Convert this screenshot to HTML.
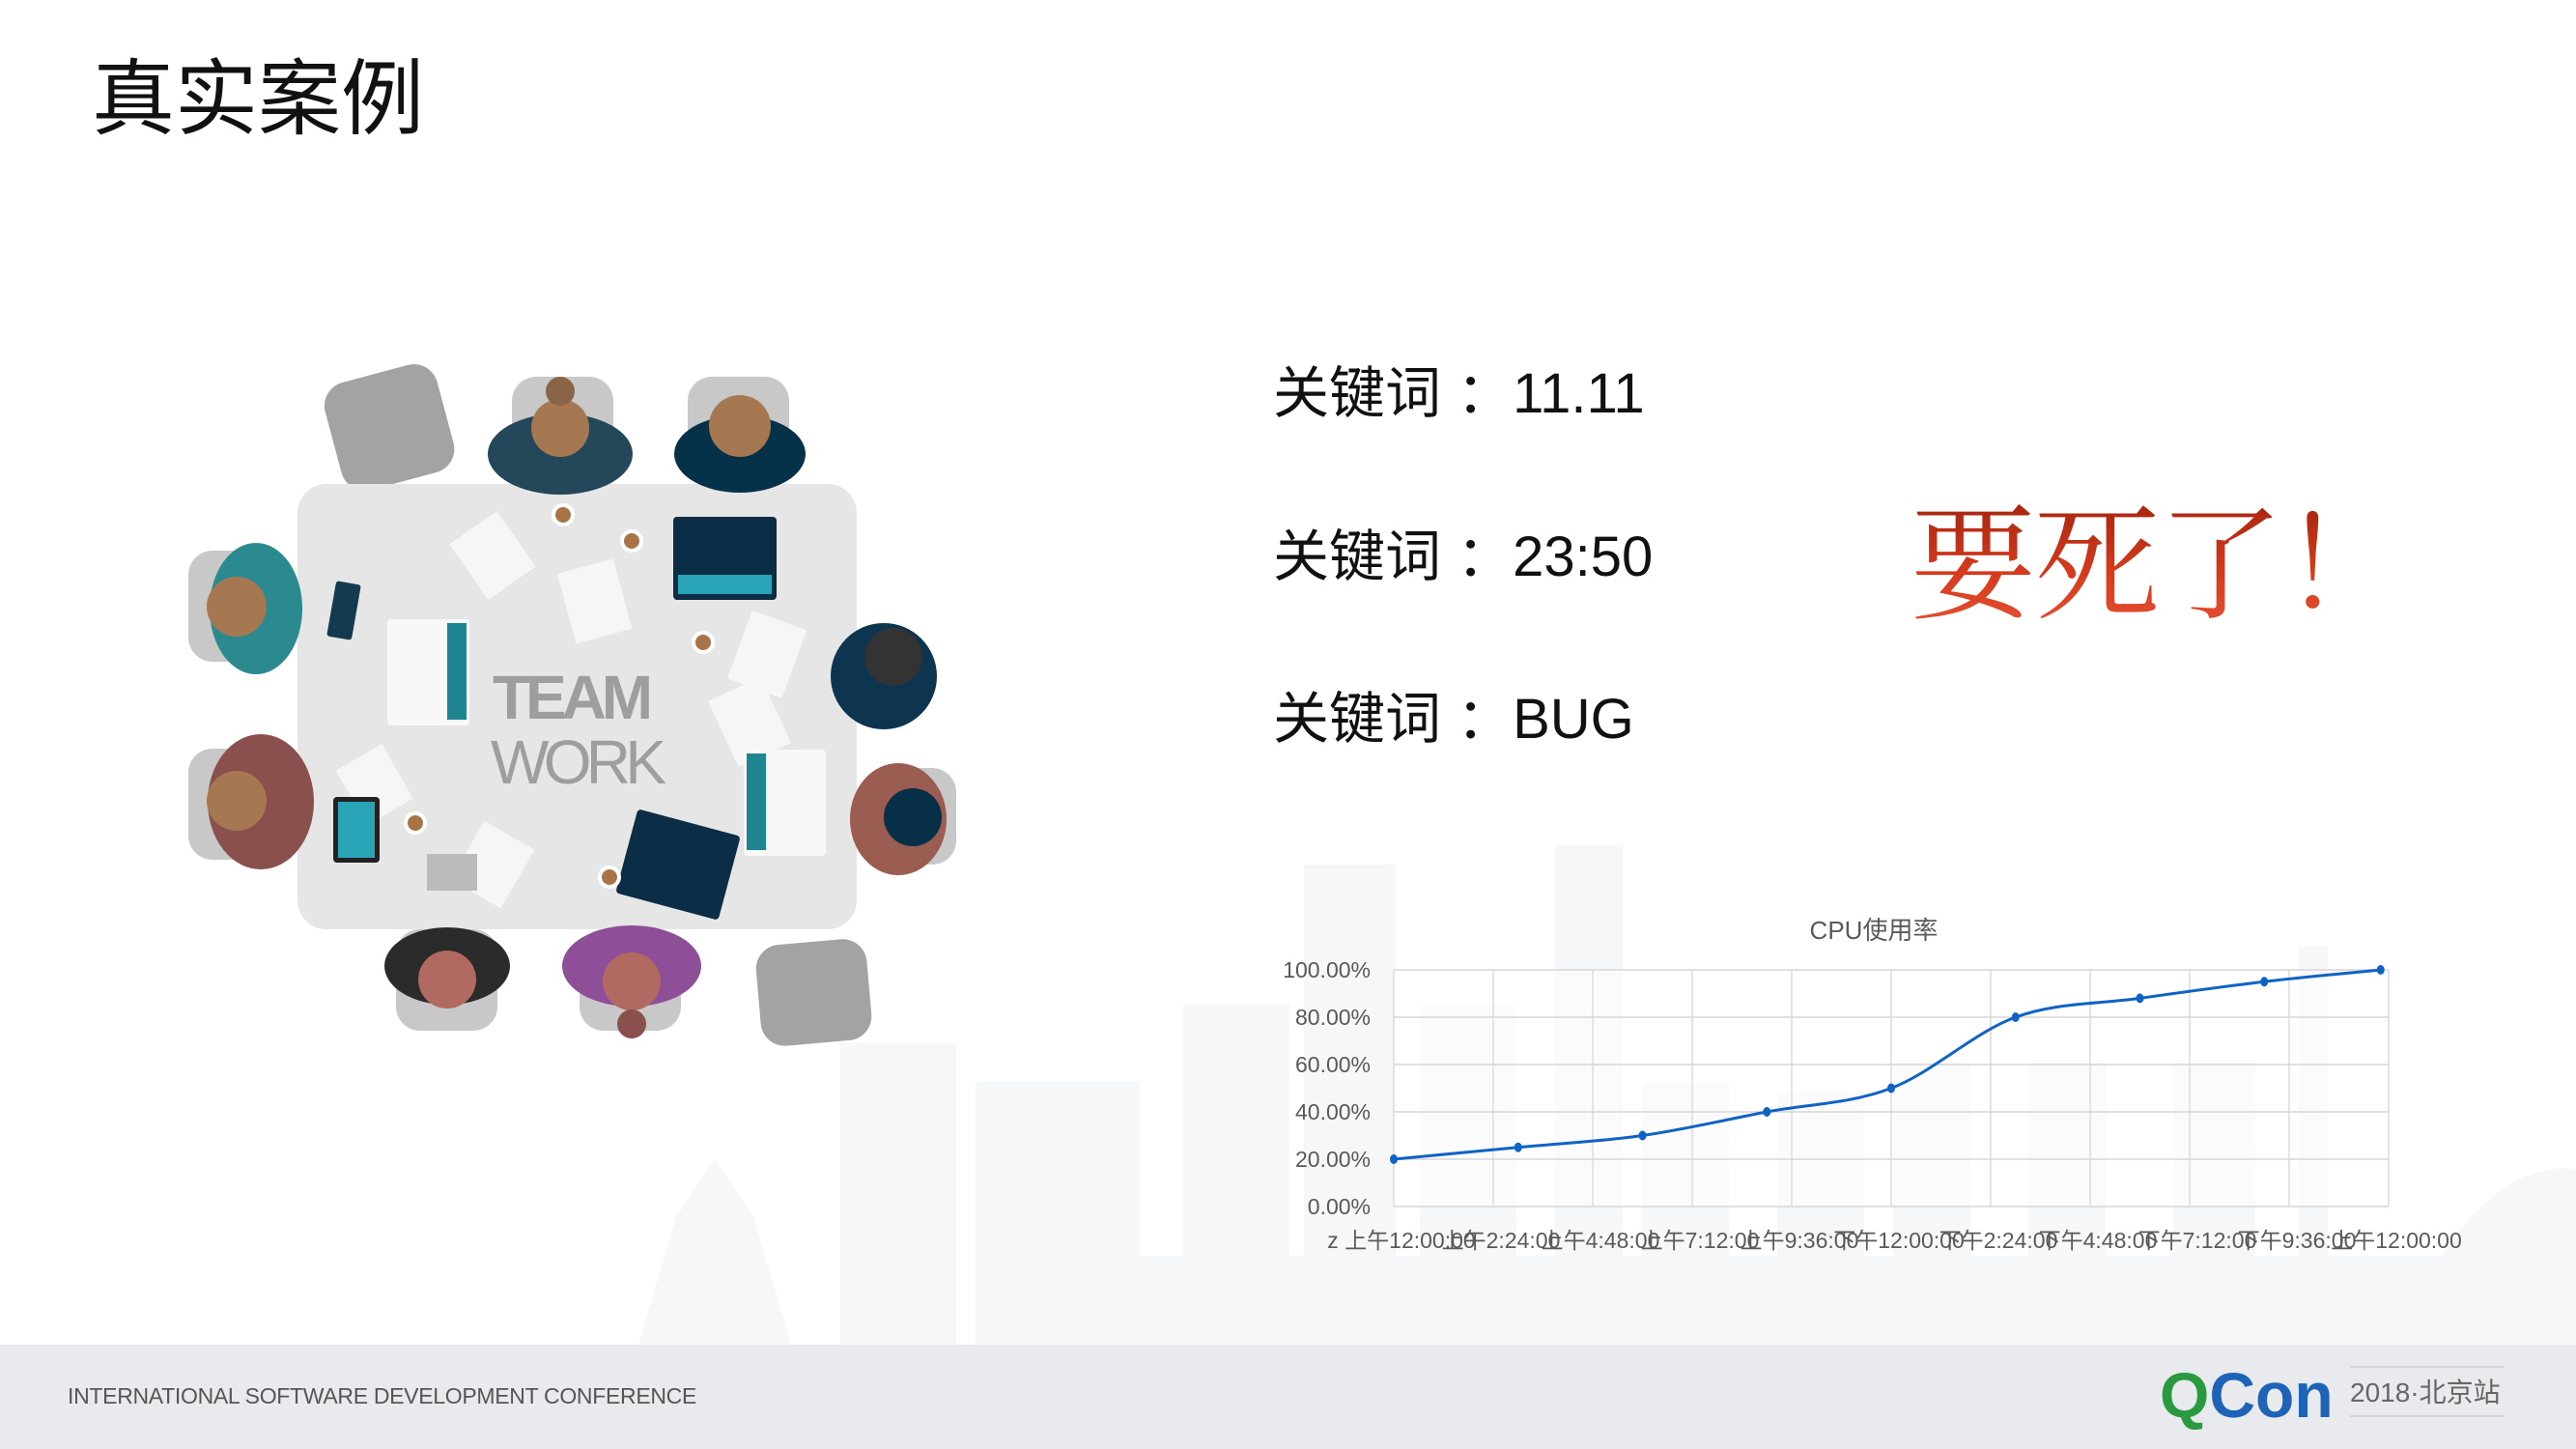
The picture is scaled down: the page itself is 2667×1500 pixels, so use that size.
<!DOCTYPE html>
<html><head><meta charset="utf-8">
<style>
html,body{margin:0;padding:0;background:#fff;}
body{width:2667px;height:1500px;position:relative;overflow:hidden;font-family:"Liberation Sans","Noto Sans CJK SC",sans-serif;}
.abs{position:absolute;}
</style></head>
<body>
<svg class="abs" style="left:0;top:0" width="2667" height="1500">
  <g fill="#f6f7f8">
    <rect x="1350" y="895" width="95" height="500"/>
    <rect x="1610" y="875" width="70" height="520"/>
    <rect x="1225" y="1040" width="110" height="355"/>
    <rect x="1470" y="1040" width="100" height="355"/>
    <rect x="1700" y="1120" width="90" height="275"/>
    <rect x="1840" y="1130" width="90" height="265"/>
    <rect x="1960" y="1100" width="80" height="295"/>
    <rect x="2100" y="1100" width="80" height="295"/>
    <rect x="2250" y="1100" width="85" height="295"/>
    <rect x="2380" y="980" width="30" height="415"/>
    <rect x="870" y="1080" width="120" height="315"/>
    <rect x="1010" y="1120" width="170" height="275"/>
    <path d="M660 1395 L700 1260 L740 1200 L780 1260 L820 1395 Z"/>
    <path d="M2480 1395 Q2560 1200 2667 1210 L2667 1395 Z"/>
    <rect x="1100" y="1300" width="1567" height="95"/>
  </g>
</svg>

<div class="abs" style="left:95px;top:40px;font-size:86px;color:#111;font-family:'Noto Sans CJK SC',sans-serif;line-height:110px;">真实案例</div>

<svg class="abs" style="left:0;top:0" width="1100" height="1100">
  <g fill="#a3a3a3">
    <rect x="343" y="385" width="120" height="115" rx="25" transform="rotate(-15 403 442)"/>
    <rect x="785" y="975" width="115" height="105" rx="25" transform="rotate(-5 842 1027)"/>
    <rect x="530" y="390" width="105" height="110" rx="25" fill="#c8c8c8"/>
    <rect x="712" y="390" width="105" height="110" rx="25" fill="#c8c8c8"/>
    <rect x="195" y="570" width="80" height="115" rx="25" fill="#c8c8c8"/>
    <rect x="195" y="775" width="80" height="115" rx="25" fill="#c8c8c8"/>
    <rect x="410" y="962" width="105" height="105" rx="25" fill="#c8c8c8"/>
    <rect x="600" y="962" width="105" height="105" rx="25" fill="#c8c8c8"/>
    <rect x="905" y="795" width="85" height="100" rx="25" fill="#c8c8c8"/>
  </g>
  <rect x="308" y="501" width="579" height="461" rx="30" fill="#e6e6e6"/>
  <g fill="#f6f6f6">
    <rect x="480" y="540" width="60" height="70" transform="rotate(-35 510 575)"/>
    <rect x="585" y="585" width="60" height="75" transform="rotate(-15 615 620)"/>
    <rect x="765" y="640" width="60" height="75" transform="rotate(20 795 675)"/>
    <rect x="745" y="710" width="60" height="75" transform="rotate(-25 775 745)"/>
    <rect x="480" y="860" width="60" height="70" transform="rotate(30 510 895)"/>
    <rect x="360" y="780" width="55" height="65" transform="rotate(-30 387 812)"/>
  </g>
  <rect x="697" y="535" width="107" height="86" rx="4" fill="#0b2d45"/>
  <rect x="702" y="595" width="97" height="20" fill="#2aa5b7"/>
  <rect x="401" y="641" width="85" height="110" rx="4" fill="#f8f8f8"/>
  <rect x="463" y="645" width="20" height="100" fill="#1f8593"/>
  <rect x="770" y="776" width="85" height="110" rx="4" fill="#f8f8f8"/>
  <rect x="773" y="780" width="20" height="100" fill="#1f8593"/>
  <rect x="647" y="850" width="110" height="90" rx="4" fill="#0b2d45" transform="rotate(15 702 895)"/>
  <rect x="345" y="825" width="48" height="68" rx="4" fill="#222"/>
  <rect x="350" y="830" width="38" height="58" fill="#2aa5b7"/>
  <rect x="343" y="603" width="26" height="58" rx="3" fill="#143a4f" transform="rotate(10 356 632)"/>
  <rect x="442" y="884" width="52" height="38" fill="#bbb"/>
  <g><ellipse cx="580" cy="470" rx="75" ry="42" fill="#24475a"/><circle cx="580" cy="443" r="30" fill="#a67851"/><circle cx="580" cy="405" r="15" fill="#8a6446"/></g>
  <g><ellipse cx="766" cy="470" rx="68" ry="40" fill="#053149"/><circle cx="766" cy="441" r="32" fill="#a67851"/></g>
  <g><ellipse cx="265" cy="630" rx="48" ry="68" fill="#2b8a90"/><circle cx="245" cy="628" r="31" fill="#a67851"/></g>
  <g><ellipse cx="270" cy="830" rx="55" ry="70" fill="#8a504d"/><circle cx="245" cy="829" r="31" fill="#a67851"/></g>
  <g><ellipse cx="463" cy="1000" rx="65" ry="40" fill="#2b2b2b"/><circle cx="463" cy="1014" r="30" fill="#b06a61"/></g>
  <g><ellipse cx="654" cy="1000" rx="72" ry="42" fill="#8e4e98"/><circle cx="654" cy="1016" r="30" fill="#b06a61"/><circle cx="654" cy="1060" r="15" fill="#8a504d"/></g>
  <g><ellipse cx="915" cy="700" rx="55" ry="55" fill="#0d3550"/><circle cx="925" cy="680" r="30" fill="#333"/></g>
  <g><ellipse cx="930" cy="848" rx="50" ry="58" fill="#9b5c52"/><circle cx="945" cy="846" r="30" fill="#082f48"/></g>
  <g fill="#a87447" stroke="#fff" stroke-width="4"><circle cx="583" cy="533" r="10"/><circle cx="654" cy="560" r="10"/><circle cx="728" cy="665" r="10"/><circle cx="430" cy="852" r="10"/><circle cx="631" cy="908" r="10"/></g>
  <text x="510" y="744" font-family="Liberation Sans,sans-serif" font-weight="bold" font-size="64" fill="#9e9e9e" textLength="166">TEAM</text>
  <text x="508" y="811" font-family="Liberation Sans,sans-serif" font-size="64" fill="#9e9e9e" textLength="182">WORK</text>
</svg>

<div>
  <div class="abs" style="left:1318px;top:368px;font-size:58px;color:#111;font-family:'Liberation Sans','Noto Sans CJK SC',sans-serif;line-height:80px;">关键词 ：11.11</div>
  <div class="abs" style="left:1318px;top:537px;font-size:58px;color:#111;font-family:'Liberation Sans','Noto Sans CJK SC',sans-serif;line-height:80px;">关键词 ：23:50</div>
  <div class="abs" style="left:1318px;top:705px;font-size:58px;color:#111;font-family:'Liberation Sans','Noto Sans CJK SC',sans-serif;line-height:80px;">关键词 ：BUG</div>
</div>

<svg class="abs" style="left:1960px;top:490px" width="560" height="200">
  <defs><linearGradient id="rg" x1="0" y1="0" x2="0" y2="1"><stop offset="0" stop-color="#8e1a08"/><stop offset="0.6" stop-color="#d63a1c"/><stop offset="1" stop-color="#e8573a"/></linearGradient>
  <linearGradient id="rf" x1="0" y1="0" x2="0" y2="1"><stop offset="0" stop-color="#e8573a" stop-opacity="0.35"/><stop offset="0.5" stop-color="#e8573a" stop-opacity="0"/></linearGradient></defs>
  <text x="18" y="140" font-family="'Noto Serif CJK SC',serif" font-size="130" fill="url(#rg)" letter-spacing="-2">要死了！</text>
  <text x="18" y="140" font-family="'Noto Serif CJK SC',serif" font-size="130" fill="url(#rf)" letter-spacing="-2" transform="translate(0 290) scale(1 -1) translate(0 -10)" opacity="0.6">要死了！</text>
</svg>

<svg class="abs" id="chart" style="left:0;top:0" width="2667" height="1500"></svg>

<div class="abs" style="left:0;top:1392px;width:2667px;height:108px;background:#e8eaed;"></div>
<div class="abs" style="left:70px;top:1432px;font-size:23px;color:#555;letter-spacing:-0.3px;">INTERNATIONAL SOFTWARE DEVELOPMENT CONFERENCE</div>
<div class="abs" style="left:2236px;top:1404px;font-size:66px;font-weight:bold;line-height:80px;letter-spacing:0px;"><span style="color:#2a9a3e">Q</span><span style="color:#1d63b8">Con</span></div>
<div class="abs" style="left:2433px;top:1414px;width:160px;height:2px;background:#d3d5d8;"></div>
<div class="abs" style="left:2433px;top:1465px;width:160px;height:2px;background:#d3d5d8;"></div>
<div class="abs" style="left:2433px;top:1422px;font-size:28px;color:#666;line-height:40px;font-family:'Liberation Sans','Noto Sans CJK SC',sans-serif;">2018·北京站</div>

<script>
const xValues = [0, 1.25, 2.5, 3.75, 5, 6.25, 7.5, 8.75, 9.92];
const cpuValues = [20, 25, 30, 40, 50, 80, 88, 95, 100];
const yTicks = [0, 20, 40, 60, 80, 100];
const yTickLabels = ["0.00%", "20.00%", "40.00%", "60.00%", "80.00%", "100.00%"];
const xTicks = [0,1,2,3,4,5,6,7,8,9,10];
const xTickLabels = ["z 上午12:00:00","上午2:24:00","上午4:48:00","上午7:12:00","上午9:36:00","下午12:00:00","下午2:24:00","下午4:48:00","下午7:12:00","下午9:36:00","上午12:00:00"];

const NS = "http://www.w3.org/2000/svg";
const svg = document.getElementById('chart');
const L = 1443, R = 2473, T = 1004, B = 1249;
const xScale = v => L + (v / 10) * (R - L);
const yScale = v => B - (v / 100) * (B - T);
function mk(tag, attrs) { const e = document.createElementNS(NS, tag); for (const k in attrs) e.setAttribute(k, attrs[k]); svg.appendChild(e); return e; }

const bg = mk('rect', {x: L, y: T, width: R - L, height: B - T, fill: '#ffffff', 'fill-opacity': 0.55});



xTicks.forEach((t, i) => {
  const g = mk('line', {x1: xScale(t), x2: xScale(t), y1: T, y2: B, stroke: '#dcdcdc', 'stroke-width': 1.5});
  
  
  const lb = mk('text', {x: xScale(t) + 8, y: 1292, 'text-anchor': 'middle', 'font-size': 23, fill: '#595959', 'font-family': "Liberation Sans, Noto Sans CJK SC, sans-serif"});
  lb.textContent = xTickLabels[i];
  
  
});
yTicks.forEach((t, i) => {
  const g = mk('line', {x1: L, x2: R, y1: yScale(t), y2: yScale(t), stroke: '#d6d6d6', 'stroke-width': 1.5});
  
  
  const lb = mk('text', {x: 1419, y: yScale(t) + 8, 'text-anchor': 'end', 'font-size': 23, fill: '#595959', 'font-family': "Liberation Sans, sans-serif"});
  lb.textContent = yTickLabels[i];
  
  
});

const title = mk('text', {x: 1940, y: 972, 'text-anchor': 'middle', 'font-size': 26, fill: '#595959', 'font-family': "Liberation Sans, Noto Sans CJK SC, sans-serif"});
title.textContent = 'CPU使用率';



const pts = xValues.map((x, i) => [xScale(x), yScale(cpuValues[i])]);
let d = `M${pts[0][0]},${pts[0][1]}`;
for (let i = 0; i < pts.length - 1; i++) {
  const p0 = pts[Math.max(0, i - 1)], p1 = pts[i], p2 = pts[i + 1], p3 = pts[Math.min(pts.length - 1, i + 2)];
  const c1x = p1[0] + (p2[0] - p0[0]) / 6, c1y = p1[1] + (p2[1] - p0[1]) / 6;
  const c2x = p2[0] - (p3[0] - p1[0]) / 6, c2y = p2[1] - (p3[1] - p1[1]) / 6;
  d += ` C${c1x},${c1y} ${c2x},${c2y} ${p2[0]},${p2[1]}`;
}
const line = mk('path', {d: d, fill: 'none', stroke: '#0e63c4', 'stroke-width': 3});


pts.forEach(p => {
  const c = mk('ellipse', {cx: p[0], cy: p[1], rx: 4, ry: 5, fill: '#0e63c4'});
  
  
});
</script>
</body></html>
